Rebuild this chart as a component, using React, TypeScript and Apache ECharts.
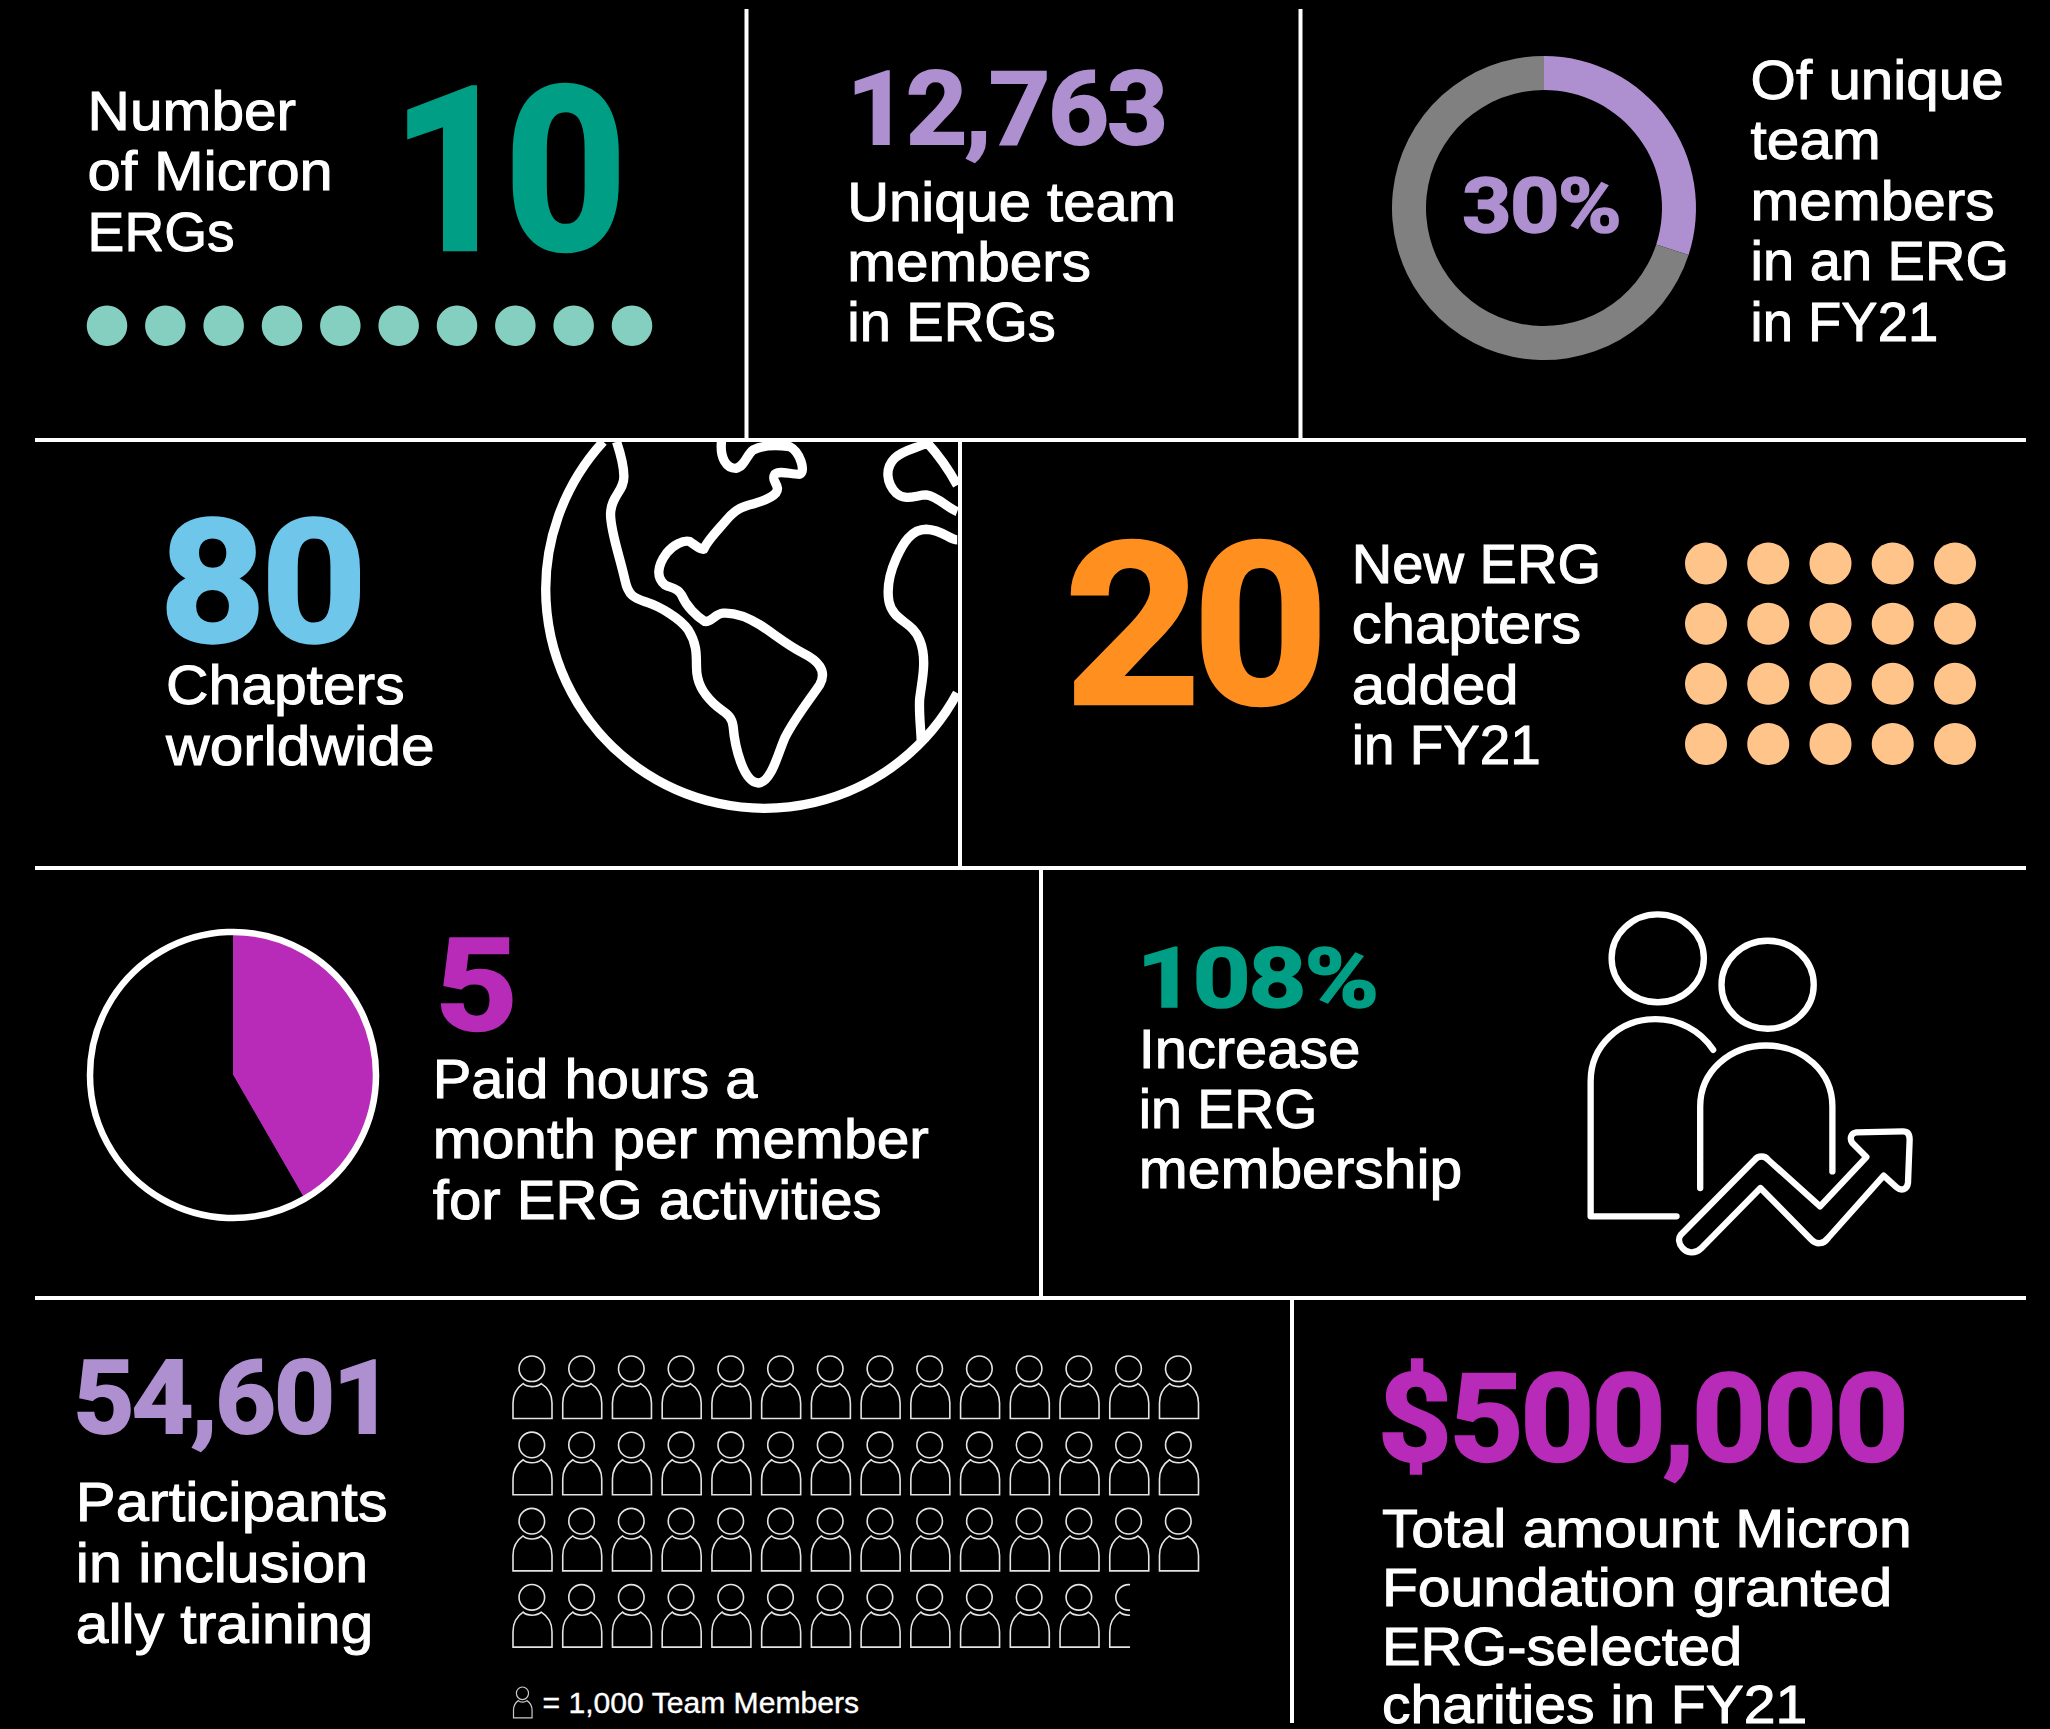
import React, { useEffect, useRef } from "react";
import * as echarts from "echarts";

// ---------- data ----------
const ergCount = 10;
const newChapters = 20;
const chapterCols = 5;
const uniqueShare = [30, 70];
const paidHours = [5, 7];
const peopleInRow = [14, 14, 14, 12.52];
const peopleCols = 14;

const W = 2050;
const H = 1729;
const FONT = '"Liberation Sans"';
const BIG_FONT = "Roboto";
const C = {
  teal: "#009E85",
  mint: "#85CFC0",
  purple: "#AE8FD0",
  grey: "#808080",
  blue: "#6EC6EA",
  orange: "#FF9020",
  peach: "#FFC48A",
  magenta: "#B82AB8",
};

// ---------- icon outlines ----------
const globeD =
  "M250 35 A657 657 0 1 0 1313 790 M1220 35 A657 657 0 0 1 1313 166 " +
  "M290 35 C305 80 312 110 312 140 C312 185 275 195 272 250 C270 300 300 380 315 450 C325 500 345 505 380 517 C420 530 480 565 505 600 C530 640 530 670 530 710 C530 760 550 790 580 820 C610 850 635 850 640 890 C645 950 670 1058 716 1060 C755 1058 775 970 795 925 C825 865 870 810 900 765 C925 720 890 690 850 670 C800 645 760 610 720 585 C680 560 640 548 610 550 C585 552 575 578 555 575 C530 560 500 530 485 495 C470 470 450 475 435 465 C410 445 410 410 440 370 C460 345 490 330 510 335 C525 345 540 360 552 358 C560 335 590 305 620 270 C650 235 670 230 700 222 C740 210 775 195 773 175 C770 155 755 150 765 133 C780 120 810 133 840 133 C860 125 840 65 810 50 C775 45 730 45 700 60 C680 75 675 110 648 115 C620 115 600 85 605 35 " +
  "M1220 40 C1190 55 1150 60 1125 85 C1095 115 1100 160 1130 190 C1160 215 1190 195 1220 195 C1255 200 1285 235 1313 245 " +
  "M1313 330 C1290 330 1270 300 1220 298 C1175 298 1150 340 1130 385 C1110 430 1100 470 1108 515 C1120 575 1180 575 1200 630 C1225 690 1205 760 1200 810 C1198 850 1203 890 1205 935";

const groupD =
  "M155 205 A138.5 132 0 1 1 432 205 A138.5 132 0 1 1 155 205 Z " +
  "M485 284.5 A138.5 132 0 1 1 762 284.5 A138.5 132 0 1 1 485 284.5 Z " +
  "M350 980 L92 980 L92 575 C92 465 180 388 287 388 C355 388 420 420 460 480 " +
  "M421 895 L421 650 C421 545 510 467 618 467 C730 467 818 545 818 650 L818 845 " +
  "M363 1035 L585 810 C595 797 615 797 625 810 L781 950 L920 802 L878 760 C868 745 875 730 890 728 L1030 725 C1045 725 1050 735 1050 750 L1045 880 C1042 900 1025 905 1010 892 L972 858 L805 1045 C790 1065 770 1065 755 1050 L602 895 L425 1075 C405 1095 380 1090 368 1075 C355 1060 355 1045 363 1035 Z";

const personD =
  "M18 38 A38 38 0 1 1 94 38 A38 38 0 1 1 18 38 Z " +
  "M0 186 L0 140 C0 110 15 92 30 82 C42 94 70 94 84 82 C100 92 116 110 116 140 L116 186 Z";

echarts.graphic.registerShape("globeIcon", echarts.graphic.extendPath(globeD, {}) as any);
echarts.graphic.registerShape("groupIcon", echarts.graphic.extendPath(groupD, {}) as any);
echarts.graphic.registerShape("personIcon", echarts.graphic.extendPath(personD, {}) as any);

// ---------- text helpers ----------
const ctx = document.createElement("canvas").getContext("2d")!;
const BASE_K = 0.35;
const SHRINK = 2050 / 1568;
const spacing: Record<string, number> = {};

function line(text: string, x: number, baseline: number, size: number, width: number, color: string, font: string, stroke: number) {
  ctx.font = font;
  const lh = size * 0.9;
  const ls = spacing[text] ? spacing[text] * text.length : 0;
  return {
    type: "text",
    x,
    y: baseline - lh / 2 - BASE_K * size,
    scaleX: width / (ctx.measureText(text).width + ls),
    silent: true,
    z: 10,
    style: { text, font, fill: color, stroke: stroke ? color : undefined, lineWidth: stroke, lineHeight: lh, x: 0, y: 0, align: "left" },
  };
}
// body text: lines given with the x where each one ends in the 1568-wide view of the layout
function body(rows: [string, number][], startView: number, baseline: number, size = 56, pitch = 60.5, stroke = 1.0) {
  const font = `normal ${size}px ${FONT}`;
  return rows.map(([t, endView], i) =>
    line(t, startView * SHRINK, baseline + i * pitch, size, (endView - startView) * SHRINK + 2, "#fff", font, stroke)
  );
}
function big(text: string, x: number, baseline: number, size: number, width: number, color: string, ls: number) {
  const font = `bold ${size}px ${BIG_FONT}`;
  spacing[text] = ls * size;
  return line(text, x, baseline, size, width, color, font, 0.02 * size);
}
function rule(x1: number, y1: number, x2: number, y2: number) {
  return {
    type: "line",
    silent: true,
    z: 5,
    shape: { x1, y1, x2, y2 },
    style: { stroke: "#fff", lineWidth: 4 },
  };
}
const hidden = (min: number, max: number, inverse = false) => ({
  type: "value",
  show: false,
  min,
  max,
  inverse,
});

function buildOption() {
  const ergDots = Array.from({ length: ergCount }, (_, i) => [i, 0]);
  const chapterDots = Array.from({ length: newChapters }, (_, i) => [i % chapterCols, Math.floor(i / chapterCols)]);
  const people: number[][] = [];
  peopleInRow.forEach((n, row) => {
    for (let c = 0; c < n; c++) people.push([c, row, Math.min(1, n - c)]);
  });

  return {
    animation: false,
    backgroundColor: "#000",
    grid: [
      { left: 107, top: 305.7, width: 525, height: 40 },
      { left: 1706, top: 563.5, width: 249, height: 180.5 },
      { left: 513, top: 1356, width: 49.73 * peopleCols, height: 304.8 },
    ],
    xAxis: [
      { ...hidden(0, ergCount - 1), gridIndex: 0 },
      { ...hidden(0, chapterCols - 1), gridIndex: 1 },
      { ...hidden(0, peopleCols), gridIndex: 2 },
    ],
    yAxis: [
      { ...hidden(-1, 1), gridIndex: 0 },
      { ...hidden(0, 3, true), gridIndex: 1 },
      { ...hidden(0, peopleInRow.length, true), gridIndex: 2 },
    ],
    series: [
      {
        type: "pie",
        silent: true,
        center: [1544, 208],
        radius: [118, 152],
        startAngle: 90,
        label: { show: false },
        labelLine: { show: false },
        data: [
          { value: uniqueShare[0], itemStyle: { color: C.purple } },
          { value: uniqueShare[1], itemStyle: { color: C.grey } },
        ],
      },
      {
        type: "pie",
        silent: true,
        center: [233, 1075],
        radius: [0, 143],
        startAngle: 90,
        label: { show: false },
        labelLine: { show: false },
        data: [
          { value: paidHours[0], itemStyle: { color: C.magenta } },
          { value: paidHours[1], itemStyle: { color: "#000" } },
        ],
      },
      {
        type: "scatter",
        silent: true,
        xAxisIndex: 0,
        yAxisIndex: 0,
        symbolSize: 40.5,
        itemStyle: { color: C.mint, opacity: 1 },
        data: ergDots,
      },
      {
        type: "scatter",
        silent: true,
        xAxisIndex: 1,
        yAxisIndex: 1,
        symbolSize: 42,
        itemStyle: { color: C.peach, opacity: 1 },
        data: chapterDots,
      },
      {
        type: "custom",
        silent: true,
        xAxisIndex: 2,
        yAxisIndex: 2,
        clip: false,
        encode: { x: 0, y: 1 },
        data: people,
        renderItem: (_: any, api: any) => {
          const p = api.coord([api.value(0), api.value(1)]);
          const frac = api.value(2);
          const el: any = {
            type: "path",
            shape: { pathData: personD, x: p[0], y: p[1], width: 39, height: 62.5, layout: "cover" },
            style: { fill: "none", stroke: "#e4e4e4", lineWidth: 1.6 },
          };
          if (frac < 1) {
            el.clipPath = { type: "rect", shape: { x: p[0] - 3, y: p[1] - 3, width: 39 * frac + 3, height: 70 } };
          }
          return el;
        },
      },
    ],
    graphic: { elements: [
      rule(35, 440, 2026, 440),
      rule(35, 868, 2026, 868),
      rule(35, 1298, 2026, 1298),
      rule(746.5, 9, 746.5, 440),
      rule(1300.5, 9, 1300.5, 440),
      rule(960, 440, 960, 868),
      rule(1041, 868, 1041, 1298),
      rule(1292, 1298, 1292, 1723),
      {
        type: "globeIcon",
        x: 520,
        y: 430,
        scaleX: 1 / 3,
        scaleY: 1 / 3,
        silent: true,
        style: { fill: "none", stroke: "#fff", lineWidth: 28, lineJoin: "round" },
      },
      {
        type: "groupIcon",
        x: 1560,
        y: 890,
        scaleX: 1 / 3,
        scaleY: 1 / 3,
        silent: true,
        style: { fill: "none", stroke: "#fff", lineWidth: 19, lineCap: "round", lineJoin: "round" },
      },
      {
        type: "circle",
        silent: true,
        z: 6,
        shape: { cx: 233, cy: 1075, r: 143 },
        style: { fill: "none", stroke: "#fff", lineWidth: 6.5 },
      },
      {
        type: "personIcon",
        x: 513.5,
        y: 1687,
        scaleX: 0.16,
        scaleY: 0.166,
        silent: true,
        style: { fill: "none", stroke: "#ccc", lineWidth: 7.5 },
      },
      ...body([["Number", 225], ["of Micron", 253], ["ERGs", 178]], 67, 130),
      big("10", 392, 251, 226, 226, C.teal, -0.04),
      big("12,763", 847, 144, 102, 319, C.purple, -0.02),
      ...body([["Unique team", 898], ["members", 833], ["in ERGs", 806]], 648, 220.5),
      big("30%", 1462, 232, 76, 158, C.purple, -0.02),
      ...body([["Of unique", 1531], ["team", 1437], ["members", 1524], ["in an ERG", 1535], ["in FY21", 1481]], 1339, 99),
      big("80", 160, 642, 170, 203, C.blue, -0.02),
      ...body([["Chapters", 308], ["worldwide", 331]], 127, 704.5),
      big("20", 1065, 705, 224, 256, C.orange, -0.03),
      ...body([["New ERG", 1223], ["chapters", 1208], ["added", 1160], ["in FY21", 1177]], 1034, 583),
      big("5", 435, 1031, 128, 82, C.magenta, 0),
      ...body([["Paid hours a", 578], ["month per member", 709], ["for ERG activities", 673]], 331, 1098),
      big("108%", 1137, 1008, 84, 240, C.teal, -0.02),
      ...body([["Increase", 1039], ["in ERG", 1006], ["membership", 1117]], 871, 1067.5),
      big("54,601", 73, 1433, 102, 319, C.purple, -0.02),
      ...body([["Participants", 295], ["in inclusion", 280], ["ally training", 284]], 58, 1521.5, 56, 60.8),
      big("$500,000", 1378, 1462, 122, 528, C.magenta, -0.02),
      ...body(
        [["Total amount Micron", 1461], ["Foundation granted", 1446], ["ERG-selected", 1331], ["charities in FY21", 1381]],
        1057,
        1547,
        54,
        58.8
      ),
      ...body([["= 1,000 Team Members", 656]], 415, 1713, 29, 60.5, 0.35),
    ] },
  };
}

export default function App() {
  const ref = useRef<HTMLDivElement>(null);
  useEffect(() => {
    document.body.style.margin = "0";
    document.body.style.background = "#000";
    document.documentElement.style.overflow = "hidden";
    const chart = echarts.init(ref.current!, null, { renderer: "svg" });
    chart.setOption(buildOption() as any);
    ref.current!.querySelectorAll("text").forEach((t) => {
      const s = spacing[t.textContent || ""];
      if (s) (t as SVGTextElement).style.letterSpacing = `${s}px`;
    });
    return () => chart.dispose();
  }, []);
  return <div ref={ref} style={{ width: W, height: H }} />;
}
